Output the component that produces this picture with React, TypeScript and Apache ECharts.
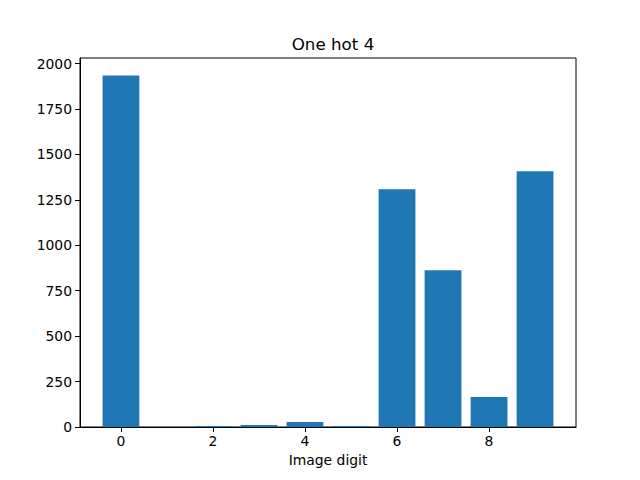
import React, { useEffect, useRef } from "react";
import * as echarts from "echarts";

const digits = [0, 1, 2, 3, 4, 5, 6, 7, 8, 9];
const counts = [1934, 0, 6, 11, 27, 5, 1308, 863, 165, 1407];
const xTicks = [0, 2, 4, 6, 8];
const yTicks = [0, 250, 500, 750, 1000, 1250, 1500, 1750, 2000];
const titleText = "One hot 4";
const xLabel = "Image digit";

export default function App() {
  const ref = useRef<HTMLDivElement>(null);
  useEffect(() => {
    const chart = echarts.init(ref.current!, null, { renderer: "svg" });
    const font = "DejaVu Sans";
    chart.setOption({
      animation: false,
      title: {
        text: titleText,
        left: 328,
        textAlign: "center",
        top: 30,
        textStyle: { fontFamily: font, fontSize: 16.7, fontWeight: "normal", color: "#000" },
      },
      grid: {
        left: 80,
        right: 64,
        top: 58,
        bottom: 53,
        show: true,
        borderColor: "#000",
        borderWidth: 1,
        backgroundColor: "transparent",
      },
      xAxis: {
        type: "value",
        min: -0.89,
        max: 9.89,
        name: xLabel,
        nameLocation: "middle",
        nameGap: 26,
        nameTextStyle: { fontFamily: font, fontSize: 13.9, color: "#000" },
        splitLine: { show: false },
        axisLine: { show: true, onZero: false, lineStyle: { color: "#000", width: 1 } },
        axisTick: { show: true, length: 5, lineStyle: { color: "#000" }, customValues: xTicks },
        axisLabel: {
          fontFamily: font,
          fontSize: 13.9,
          color: "#000",
          margin: 7,
          customValues: xTicks,
          formatter: (v: number) => String(v),
        },
      },
      yAxis: {
        type: "value",
        min: 0,
        max: 2031,
        splitLine: { show: false },
        axisLine: { show: true, onZero: false, lineStyle: { color: "#000", width: 1 } },
        axisTick: { show: true, length: 5, lineStyle: { color: "#000" }, customValues: yTicks },
        axisLabel: {
          fontFamily: font,
          fontSize: 13.9,
          color: "#000",
          margin: 8,
          customValues: yTicks,
          formatter: (v: number) => String(v),
        },
      },
      series: [
        {
          type: "custom",
          data: digits.map((d, i) => [d, counts[i]]),
          encode: { x: 0, y: 1 },
          renderItem: (params: any, api: any) => {
            const x = api.value(0);
            const y = api.value(1);
            const p1 = api.coord([x - 0.4, y]);
            const p2 = api.coord([x + 0.4, 0]);
            return {
              type: "rect",
              shape: { x: p1[0], y: p1[1], width: p2[0] - p1[0], height: p2[1] - p1[1] },
              style: { fill: "#1f77b4" },
            };
          },
        },
      ],
    });
    return () => chart.dispose();
  }, []);
  return <div ref={ref} style={{ width: 640, height: 480, margin: -8 }} />;
}
